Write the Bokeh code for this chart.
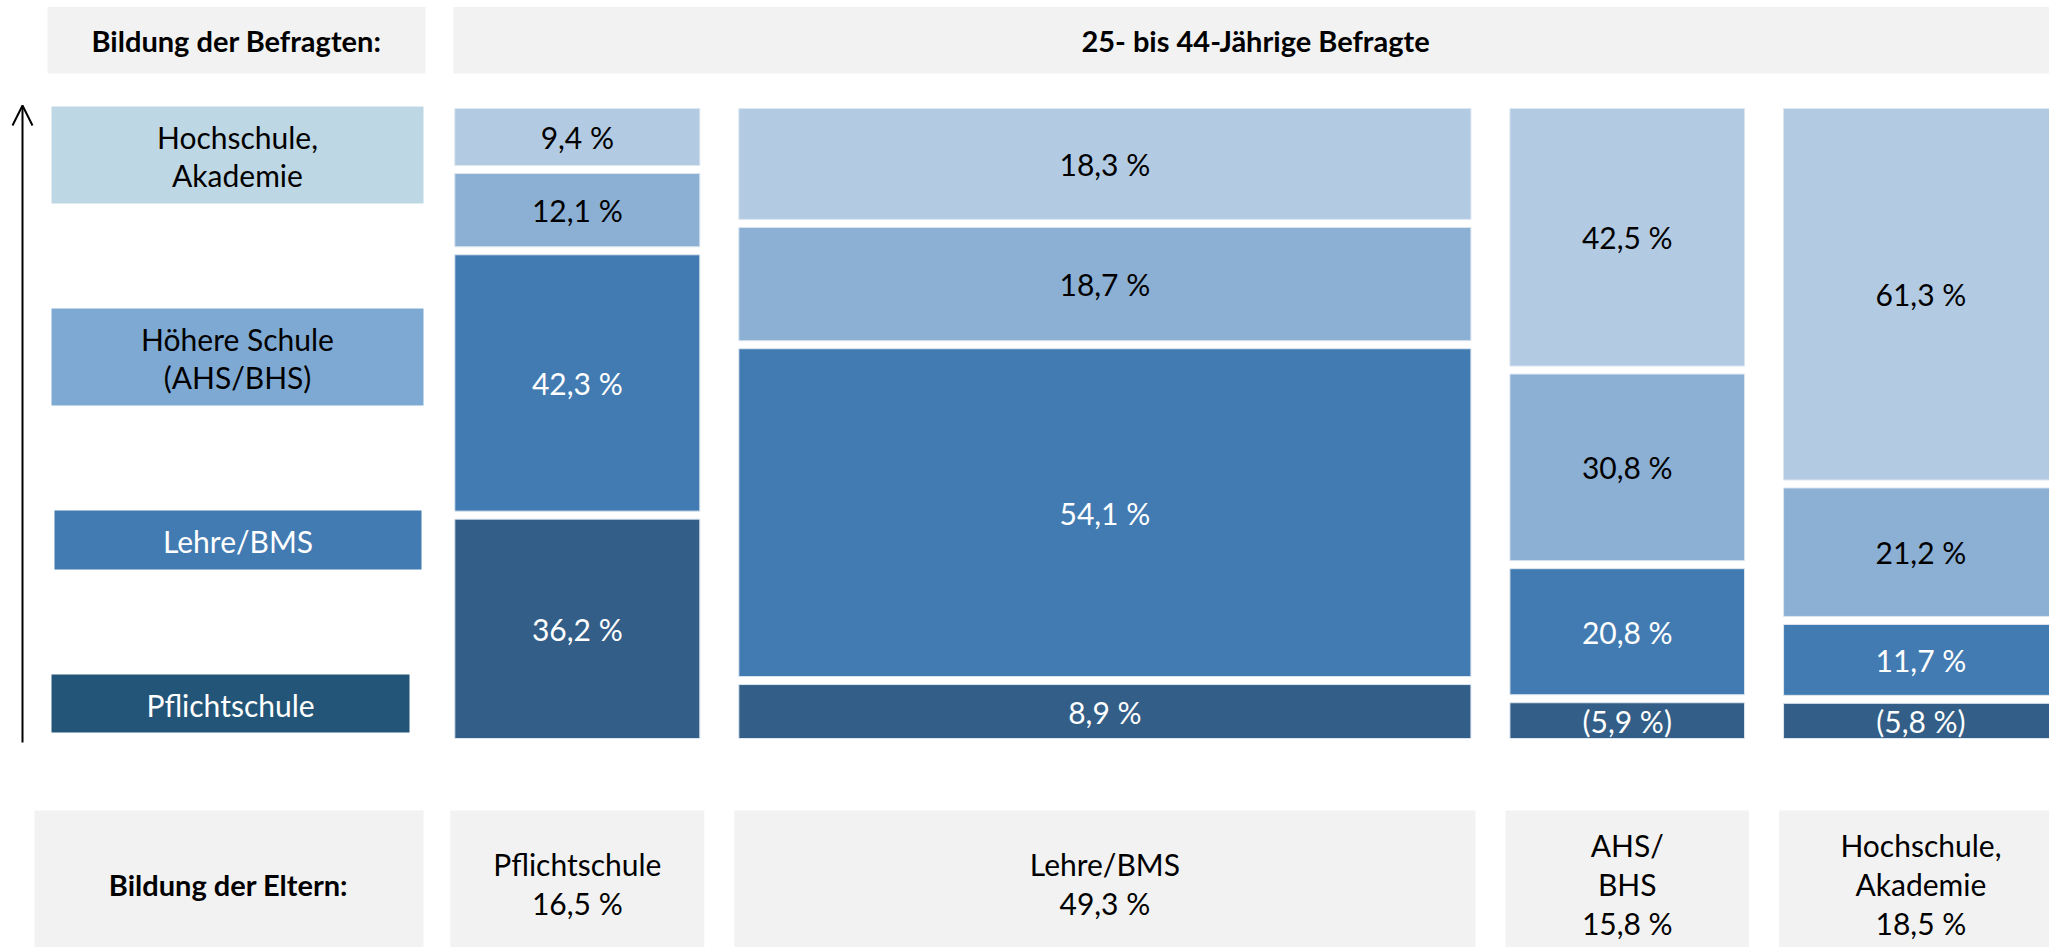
from bokeh.plotting import figure
from bokeh.models import Range1d, ColumnDataSource, Arrow, OpenHead
from bokeh.core.properties import value
from bokeh.embed import file_html
from bokeh.resources import INLINE

# ---------------- data ----------------
# education of parents (columns) and their share
parent_levels = ["Pflichtschule", "Lehre/BMS", "AHS/BHS", "Hochschule, Akademie"]
parent_label_lines = [["Pflichtschule"], ["Lehre/BMS"], ["AHS/", "BHS"], ["Hochschule,", "Akademie"]]
parent_share = [16.5, 49.3, 15.8, 18.5]

# education of respondents (stack order bottom -> top)
respondent_levels = ["Pflichtschule", "Lehre/BMS", "Höhere Schule (AHS/BHS)", "Hochschule, Akademie"]
respondent_label_lines = [["Pflichtschule"], ["Lehre/BMS"], ["Höhere Schule", "(AHS/BHS)"], ["Hochschule,", "Akademie"]]

# shares of respondents' education within each parents' column (bottom -> top)
share_pflichtschule = [36.2, 42.3, 12.1, 9.4]
share_lehre_bms = [8.9, 54.1, 18.7, 18.3]
share_ahs_bhs = [5.9, 20.8, 30.8, 42.5]
share_hochschule = [5.8, 11.7, 21.2, 61.3]
column_shares = [share_pflichtschule, share_lehre_bms, share_ahs_bhs, share_hochschule]

# values with small sample size (shown in brackets)
bracketed_pflichtschule = [False, False, False, False]
bracketed_lehre_bms = [False, False, False, False]
bracketed_ahs_bhs = [True, False, False, False]
bracketed_hochschule = [True, False, False, False]
column_bracketed = [bracketed_pflichtschule, bracketed_lehre_bms, bracketed_ahs_bhs, bracketed_hochschule]

title_text = "25- bis 44-Jährige Befragte"
left_header_text = "Bildung der Befragten:"
bottom_header_text = "Bildung der Eltern:"

# ---------------- styles ----------------
FONT = "Lato"
seg_colors = ["#325E87", "#427BB2", "#8BB0D4", "#B2CBE2"]
legend_colors = ["#235578", "#427BB2", "#7EA9D2", "#BED7E4"]
label_colors = ["white", "white", "black", "black"]
header_fill = "#F2F2F2"
BOLD_SIZE = "29px"
TEXT_SIZE = "30px"

W, H = 2049, 947
KX = 14.85   # px per percent (x)
KY = 6.06    # px per percent (y)
GAP_X = 39 / KX
GAP_Y = 8 / KY
X_ORIGIN_PX = 454.3   # px of first column left edge
Y_ORIGIN_PX = 738.0   # px of bar bottom

x0 = -X_ORIGIN_PX / KX
x1 = x0 + W / KX
y0 = -(H - Y_ORIGIN_PX) / KY
y1 = Y_ORIGIN_PX / KY


def fmt(v, br=False):
    s = f"{v:.1f}".replace(".", ",") + " %"
    return f"({s})" if br else s


p = figure(width=W, height=H, x_range=Range1d(x0, x1), y_range=Range1d(y0, y1),
           output_backend="svg", toolbar_location=None, min_border=0,
           x_axis_type=None, y_axis_type=None, outline_line_color=None,
           background_fill_color="white", border_fill_color="white")
p.grid.visible = False
p.extra_x_ranges = {"px": Range1d(0, W)}
p.extra_y_ranges = {"px": Range1d(H, 0)}

# ---------------- header boxes ----------------
p.quad(left=[47, 453], right=[425, 2060], top=[6.5, 6.5], bottom=[73, 73],
       fill_color=header_fill, line_color=None, x_range_name="px", y_range_name="px")
p.text(x=[236], y=[40], text=[left_header_text], text_font=value(FONT), text_font_style="bold",
       text_font_size=BOLD_SIZE, text_align="center", text_baseline="middle", text_color="black",
       x_range_name="px", y_range_name="px")
p.text(x=[1255], y=[40], text=[title_text], text_font=value(FONT), text_font_style="bold",
       text_font_size=BOLD_SIZE, text_align="center", text_baseline="middle", text_color="black",
       x_range_name="px", y_range_name="px")

# ---------------- legend (respondent education) ----------------
leg_boxes = [(51, 409, 674, 732), (54, 421, 510, 569), (51, 423, 308, 405), (51, 423, 106, 203)]
lx, ly, lt, lc = [], [], [], []
for i, (l, r, t, b) in enumerate(leg_boxes):
    p.quad(left=[l], right=[r], top=[t], bottom=[b], fill_color=legend_colors[i], line_color=None,
           x_range_name="px", y_range_name="px")
    lines = respondent_label_lines[i]
    n = len(lines)
    cy = (t + b) / 2 + 1
    for j, line in enumerate(lines):
        lx.append((l + r) / 2)
        ly.append(cy + (j - (n - 1) / 2) * 38)
        lt.append(line)
        lc.append(label_colors[i])
p.text(x="x", y="y", text="t", text_color="c",
       source=ColumnDataSource(dict(x=lx, y=ly, t=lt, c=lc)),
       text_font=value(FONT), text_font_size=TEXT_SIZE, text_align="center", text_baseline="middle",
       x_range_name="px", y_range_name="px")

# arrow
p.add_layout(Arrow(end=OpenHead(size=20, line_width=2, line_color="black"),
                   x_start=22, y_start=742, x_end=22, y_end=105, line_width=2, line_color="black",
                   x_range_name="px", y_range_name="px"))

# ---------------- mosaic bars ----------------
bl, br_, bb, bt, bcol = [], [], [], [], []
tx, ty, tt, tc = [], [], [], []
cum_x = 0.0
col_bounds = []
for ci, share in enumerate(parent_share):
    left = cum_x + ci * GAP_X
    right = left + share
    col_bounds.append((left, right))
    cum_y = 0.0
    for si, v in enumerate(column_shares[ci]):
        bottom = cum_y + si * GAP_Y
        top = bottom + v
        bl.append(left); br_.append(right); bb.append(bottom); bt.append(top)
        bcol.append(seg_colors[si])
        tx.append((left + right) / 2)
        ty.append((bottom + top) / 2)
        tt.append(fmt(v, column_bracketed[ci][si]))
        tc.append(label_colors[si])
        cum_y += v
    cum_x += share

p.quad(left="l", right="r", bottom="b", top="t", fill_color="c", line_color="#DCE6F0", line_width=1,
       source=ColumnDataSource(dict(l=bl, r=br_, b=bb, t=bt, c=bcol)))
p.text(x="x", y="y", text="t", text_color="c",
       source=ColumnDataSource(dict(x=tx, y=ty, t=tt, c=tc)),
       text_font=value(FONT), text_font_size=TEXT_SIZE, text_align="center", text_baseline="middle")

# ---------------- bottom boxes (parents' education) ----------------
PAD = 4.5 / KX
p.quad(left=[34], right=[423], top=[810], bottom=[960], fill_color=header_fill, line_color=None,
       x_range_name="px", y_range_name="px")
p.text(x=[228], y=[884], text=[bottom_header_text], text_font=value(FONT), text_font_style="bold",
       text_font_size=BOLD_SIZE, text_align="center", text_baseline="middle", text_color="black",
       x_range_name="px", y_range_name="px")

qx_l = [l - PAD for l, r in col_bounds]
qx_r = [r + PAD for l, r in col_bounds]
p.quad(left=qx_l, right=qx_r, top=[810] * 4, bottom=[960] * 4, fill_color=header_fill, line_color=None,
       y_range_name="px")

px_, py_, pt_ = [], [], []
for ci, (l, r) in enumerate(col_bounds):
    lines = parent_label_lines[ci] + [fmt(parent_share[ci])]
    n = len(lines)
    for j, line in enumerate(lines):
        px_.append((l + r) / 2)
        py_.append(883 + (j - (n - 1) / 2) * 39)
        pt_.append(line)
p.text(x="x", y="y", text="t", source=ColumnDataSource(dict(x=px_, y=py_, t=pt_)),
       text_font=value(FONT), text_font_size=TEXT_SIZE, text_align="center", text_baseline="middle",
       text_color="black", y_range_name="px")

open("out.html", "w").write(file_html(p, INLINE))
